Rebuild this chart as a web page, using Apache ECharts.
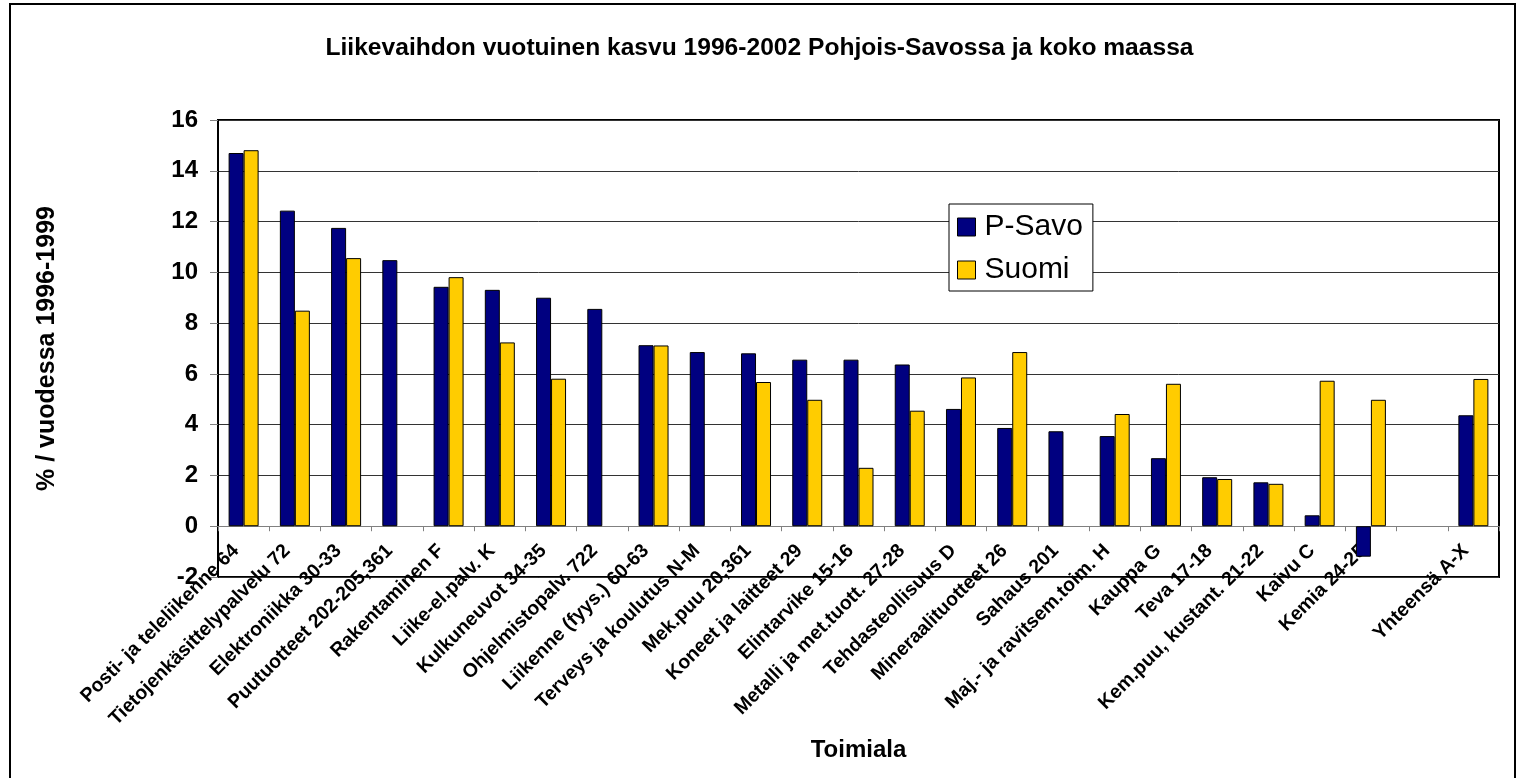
<!DOCTYPE html>
<html>
<head>
<meta charset="utf-8">
<script src="https://cdn.jsdelivr.net/npm/echarts@6/dist/echarts.min.js"></script>
<style>
  html, body { margin: 0; padding: 0; background: #fff; }
  #main { width: 1519px; height: 778px; }
</style>
</head>
<body>
<div id="main"></div>
<script>
// toimialat (tyhjä paikka ennen Yhteensä)
var categories = [
    'Posti- ja teleliikenne 64', 'Tietojenkäsittelypalvelu 72', 'Elektroniikka 30-33',
    'Puutuotteet 202-205,361', 'Rakentaminen F', 'Liike-el.palv. K', 'Kulkuneuvot 34-35',
    'Ohjelmistopalv. 722', 'Liikenne (fyys.) 60-63', 'Terveys ja koulutus N-M',
    'Mek.puu 20,361', 'Koneet ja laitteet 29', 'Elintarvike 15-16',
    'Metalli ja met.tuott. 27-28', 'Tehdasteollisuus D', 'Mineraalituotteet 26',
    'Sahaus 201', 'Maj.- ja ravitsem.toim. H', 'Kauppa G', 'Teva 17-18',
    'Kem.puu, kustant. 21-22', 'Kaivu C', 'Kemia 24-25', '', 'Yhteensä A-X'
];
var pSavo = [14.7, 12.43, 11.75, 10.48, 9.43, 9.31, 9.0, 8.56, 7.13, 6.86,
    6.81, 6.56, 6.56, 6.37, 4.62, 3.87, 3.74, 3.55, 2.68, 1.93,
    1.73, 0.43, -1.2, null, 4.37];
var suomi = [14.81, 8.49, 10.56, null, 9.81, 7.24, 5.81, null, 7.12, null,
    5.68, 4.98, 2.3, 4.55, 5.86, 6.86, null, 4.42, 5.61, 1.86,
    1.67, 5.73, 4.98, null, 5.8];
var seriesNames = ['P-Savo', 'Suomi'];

var FONT = '"Liberation Sans", Arial, sans-serif';
var myChart = echarts.init(document.getElementById('main'));

var option = {
    backgroundColor: '#fff',
    animation: false,
    color: ['#000080', '#ffcc00'],
    title: {
        text: 'Liikevaihdon vuotuinen kasvu 1996-2002 Pohjois-Savossa ja koko maassa',
        left: 'center',
        top: 31,
        textStyle: { fontFamily: FONT, fontSize: 24.6, fontWeight: 'bold', color: '#000' }
    },
    legend: {
        orient: 'vertical',
        left: 949,
        top: 204,
        width: 144,
        padding: [8, 10, 6, 8],
        itemGap: 13,
        itemWidth: 18,
        itemHeight: 18,
        icon: 'rect',
        borderColor: '#000',
        borderWidth: 1,
        backgroundColor: '#fff',
        data: seriesNames,
        itemStyle: { borderColor: '#000', borderWidth: 1 },
        textStyle: { fontFamily: FONT, fontSize: 30, color: '#000', padding: [0, 0, 0, 4] }
    },
    grid: {
        left: 218,
        top: 120,
        right: 20,
        bottom: 201,
        show: true,
        borderColor: '#000',
        borderWidth: 2,
        backgroundColor: 'transparent',
        outerBoundsMode: 'none',
        containLabel: false
    },
    xAxis: {
        type: 'category',
        data: categories,
        name: 'Toimiala',
        nameLocation: 'middle',
        nameGap: 161,
        nameMoveOverlap: false,
        nameTextStyle: { fontFamily: FONT, fontSize: 24, fontWeight: 'bold', color: '#000' },
        axisLine: { onZero: true, lineStyle: { color: '#808080', width: 1 } },
        axisTick: { show: true, length: 5, lineStyle: { color: '#808080' } },
        axisLabel: {
            interval: 0,
            rotate: 45,
            margin: -37,
            padding: [0, 11, 0, 0],
            fontFamily: FONT,
            fontSize: 19.5,
            fontWeight: 'bold',
            color: '#000'
        },
        splitLine: { show: false }
    },
    yAxis: {
        type: 'value',
        min: -2,
        max: 16,
        interval: 2,
        name: '% / vuodessa 1996-1999',
        nameLocation: 'middle',
        nameRotate: 90,
        nameGap: 158,
        nameTextStyle: { fontFamily: FONT, fontSize: 25, fontWeight: 'bold', color: '#000' },
        axisLine: { show: true, lineStyle: { color: '#000', width: 2 } },
        axisTick: { show: true, length: 8, lineStyle: { color: '#808080' } },
        axisLabel: { margin: 20, fontFamily: FONT, fontSize: 24, fontWeight: 'bold', color: '#000' },
        splitLine: { show: true, lineStyle: { color: '#333', width: 1 } }
    },
    series: [{
        name: seriesNames[0],
        type: 'bar',
        data: pSavo,
        barWidth: 15,
        barGap: '0%',
        itemStyle: { borderColor: '#000', borderWidth: 1 }
    }, {
        name: seriesNames[1],
        type: 'bar',
        data: suomi,
        barWidth: 15,
        barGap: '0%',
        itemStyle: { borderColor: '#000', borderWidth: 1 }
    }],
    graphic: [{
        type: 'rect',
        silent: true,
        z: -1,
        shape: { x: 10, y: 4, width: 1505, height: 790 },
        style: { fill: 'none', stroke: '#000', lineWidth: 2 }
    }]
};
myChart.setOption(option);
</script>
</body>
</html>
